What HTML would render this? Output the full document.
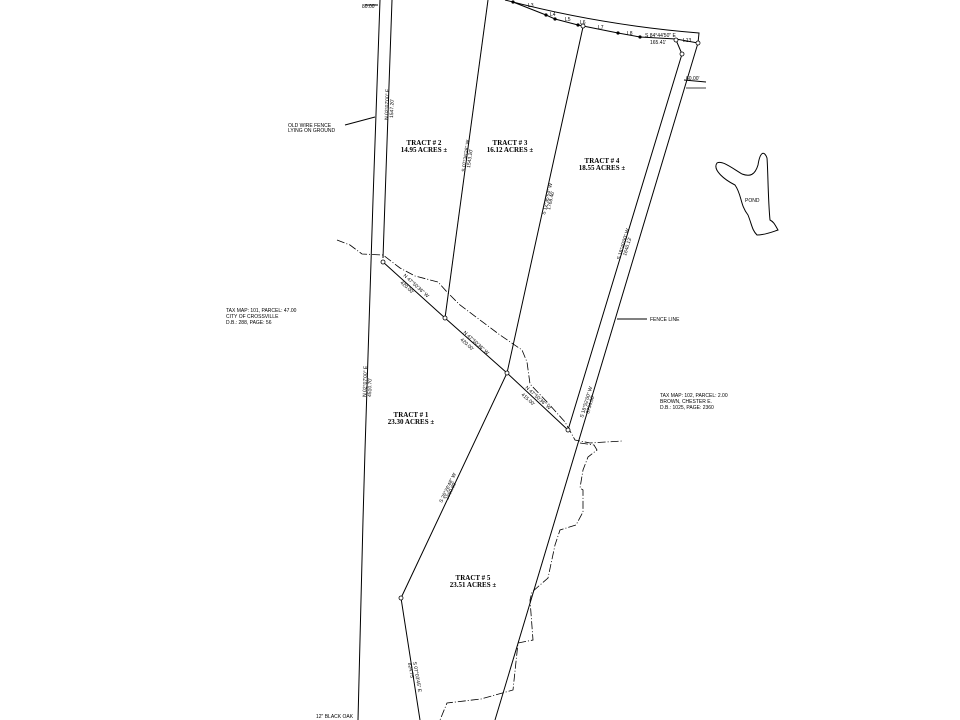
<!DOCTYPE html>
<html><head><meta charset="utf-8"><style>
html,body{margin:0;padding:0;background:#fff;}
svg{display:block;}
text{font-family:"Liberation Sans",sans-serif;fill:#000;}
.t{font-family:"Liberation Serif",serif;font-weight:bold;font-size:7px;}
.s{font-size:5px;}
</style></head><body>
<svg width="960" height="720" viewBox="0 0 960 720" xmlns="http://www.w3.org/2000/svg">
<g fill="none" stroke="#000" stroke-width="1">
<!-- west road lines -->
<polyline points="380,0 373,200 365,450 363,520 358,720"/>
<polyline points="392,0 385,200 383,258"/>
<line x1="365" y1="5" x2="378" y2="5"/>
<!-- top road curve -->
<path d="M505,0 Q600,25 699,33 L698,43"/>
<polyline points="513,2 546,15 555,19 578,25 583,26 618,33 640,37 676,39 698,43"/>
<!-- tract lines -->
<line x1="488" y1="0" x2="445" y2="318"/>
<polyline points="583,27 507,373 401,598 420,720"/>
<polyline points="676,40 682,54 568,430"/>
<line x1="698" y1="43" x2="495" y2="720"/>
<polyline points="383,262 445,318 507,373 568,430"/>
<line x1="684" y1="80" x2="706" y2="82"/>
<line x1="686" y1="88" x2="706" y2="88" stroke-width="0.8"/>
<!-- leaders -->
<line x1="345" y1="125" x2="375" y2="117"/>
<line x1="617" y1="319" x2="647" y2="319"/>
<!-- pond -->
<path d="M717,163 C712,170 725,180 735,185 C742,195 740,205 748,215 C752,225 752,230 757,235 C765,235 772,232 778,230 C775,225 774,222 770,220 C768,200 768,170 767,158 C764,150 760,152 758,165 C755,175 750,177 742,174 C732,168 722,160 717,163 Z"/>
<!-- creek -->
<g stroke-dasharray="8,2,1,2" stroke-width="0.8">
<polyline points="337,240 350,245 362,254 383,255 400,268 415,276 438,282 447,292 460,305 480,320 500,335 522,350 527,362 530,384 548,403 565,422 575,440 590,443 622,441"/>
<polyline points="580,443 594,445 597,450 588,457 583,470 580,488 583,490 583,512 576,525 560,530 555,545 548,578 532,592 530,600 533,640 518,643 513,690 481,699 447,703 440,720"/>
</g>
</g>
<g fill="#fff" stroke="#000" stroke-width="0.8">
<circle cx="383" cy="262" r="2"/><circle cx="445" cy="318" r="2"/><circle cx="507" cy="373" r="2"/><circle cx="568" cy="430" r="2"/>
<circle cx="401" cy="598" r="2"/><circle cx="583" cy="26" r="2"/><circle cx="676" cy="40" r="2"/><circle cx="682" cy="54" r="2"/><circle cx="698" cy="43" r="2"/>
</g>
<g fill="#000">
<circle cx="513" cy="2" r="1.6"/><circle cx="546" cy="15" r="1.6"/><circle cx="555" cy="19" r="1.6"/><circle cx="578" cy="25" r="1.6"/><circle cx="618" cy="33" r="1.6"/><circle cx="640" cy="37" r="1.6"/>
</g>
<!-- labels -->
<text class="s" x="362" y="8">80.00'</text>
<text class="s" x="288" y="127">OLD WIRE FENCE</text>
<text class="s" x="288" y="132">LYING ON GROUND</text>
<text class="s" x="686" y="80">60.00'</text>
<text class="s" x="650" y="321">FENCE LINE</text>
<text class="s" x="745" y="202">POND</text>
<text class="s" x="226" y="312">TAX MAP: 101, PARCEL: 47.00</text>
<text class="s" x="226" y="318">CITY OF CROSSVILLE</text>
<text class="s" x="226" y="324">D.B.: 288, PAGE: 56</text>
<text class="s" x="660" y="397">TAX MAP: 102, PARCEL: 2.00</text>
<text class="s" x="660" y="403">BROWN, CHESTER E.</text>
<text class="s" x="660" y="409">D.B.: 1025, PAGE: 2360</text>
<text class="s" x="316" y="718">12" BLACK OAK</text>
<text class="s" x="528" y="7">L3</text><text class="s" x="550" y="16">L4</text><text class="s" x="565" y="21">L5</text><text class="s" x="580" y="24">L6</text><text class="s" x="598" y="29">L7</text><text class="s" x="627" y="35">L8</text><text class="s" x="683" y="42">L13</text>
<text class="s" x="645" y="37">S 84°44'50" E</text><text class="s" x="650" y="44">165.41'</text>
<text class="t" x="424" y="145" text-anchor="middle">TRACT # 2</text>
<text class="t" x="424" y="152" text-anchor="middle">14.95 ACRES ±</text>
<text class="t" x="510" y="145" text-anchor="middle">TRACT # 3</text>
<text class="t" x="510" y="152" text-anchor="middle">16.12 ACRES ±</text>
<text class="t" x="602" y="163" text-anchor="middle">TRACT # 4</text>
<text class="t" x="602" y="170" text-anchor="middle">18.55 ACRES ±</text>
<text class="t" x="411" y="417" text-anchor="middle">TRACT # 1</text>
<text class="t" x="411" y="424" text-anchor="middle">23.30 ACRES ±</text>
<text class="t" x="473" y="580" text-anchor="middle">TRACT # 5</text>
<text class="t" x="473" y="587" text-anchor="middle">23.51 ACRES ±</text>
<!-- rotated line labels -->
<g class="s">
<text transform="translate(388,120) rotate(-88)">N 02°07'00" E</text>
<text transform="translate(393,118) rotate(-88)">1547.20'</text>
<text transform="translate(366,397) rotate(-88)">N 02°07'00" E</text>
<text transform="translate(371,397) rotate(-88)">4510.70'</text>
<text transform="translate(465,172) rotate(-82)">S 07°36'26" W</text>
<text transform="translate(470,168) rotate(-82)">1543.20'</text>
<text transform="translate(545,215) rotate(-77)">S 12°35'54" W</text>
<text transform="translate(550,210) rotate(-77)">1768.46'</text>
<text transform="translate(620,260) rotate(-73)">S 18°40'00" W</text>
<text transform="translate(626,256) rotate(-73)">1640.13'</text>
<text transform="translate(583,418) rotate(-73)">S 18°52'00" W</text>
<text transform="translate(589,414) rotate(-73)">3734.66'</text>
<text transform="translate(442,503) rotate(-64)">S 26°26'48" W</text>
<text transform="translate(448,500) rotate(-64)">1550.80'</text>
<text transform="translate(413,662) rotate(80)">S 07°03'45" E</text>
<text transform="translate(408,663) rotate(80)">824.75'</text>
<text transform="translate(403,276) rotate(42)">N 47°50'36" W</text>
<text transform="translate(400,283) rotate(42)">420.00'</text>
<text transform="translate(463,333) rotate(42)">N 47°50'36" W</text>
<text transform="translate(460,340) rotate(42)">420.00'</text>
<text transform="translate(525,388) rotate(42)">N 47°50'36" W</text>
<text transform="translate(521,395) rotate(42)">415.00'</text>
</g>
</svg>
</body></html>
